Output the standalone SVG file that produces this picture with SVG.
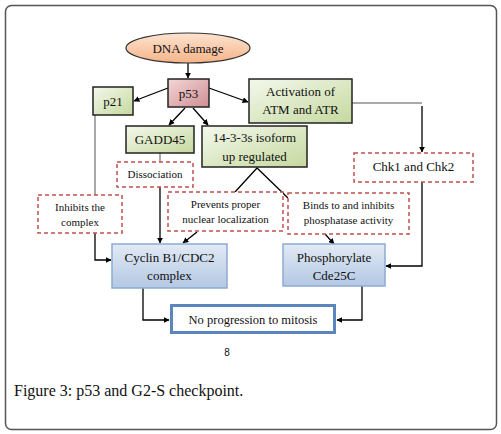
<svg xmlns="http://www.w3.org/2000/svg" width="501" height="434" viewBox="0 0 501 434">
<defs>
<linearGradient id="gGreen" x1="0" y1="0" x2="1" y2="1"><stop offset="0" stop-color="#f4f8ec"/><stop offset="1" stop-color="#c5d99f"/></linearGradient>
<linearGradient id="gPink" x1="0" y1="0" x2="1" y2="1"><stop offset="0" stop-color="#f4d6d6"/><stop offset="1" stop-color="#cf8e93"/></linearGradient>
<linearGradient id="gPeach" x1="0" y1="0" x2="0" y2="1"><stop offset="0" stop-color="#fde3d0"/><stop offset="1" stop-color="#f5b489"/></linearGradient>
<linearGradient id="gBlue" x1="0" y1="0" x2="0" y2="1"><stop offset="0" stop-color="#e2eaf5"/><stop offset="1" stop-color="#b3c8e3"/></linearGradient>
<marker id="ah" viewBox="0 0 10 10" refX="9" refY="5" markerWidth="6" markerHeight="6" orient="auto-start-reverse" markerUnits="userSpaceOnUse"><path d="M0,0 L10,5 L0,10 Z" fill="#000"/></marker>
</defs>
<style>
text{font-family:"Liberation Serif","Times New Roman",serif;fill:#111;text-anchor:middle}
.solid{stroke:#222;stroke-width:1.5}
.green{fill:url(#gGreen)}
.dash{fill:#fff;stroke:#c0504d;stroke-width:1.5;stroke-dasharray:4 3}
.blue{fill:url(#gBlue);stroke:#8eaad3;stroke-width:1.5}
.c{fill:none;stroke:#000;stroke-width:1.3}
.t{fill:none;stroke:#555;stroke-width:1}
.s13{font-size:13px}
.s11{font-size:11px}
</style>
<rect x="5.5" y="5.5" width="491" height="424" rx="6" fill="#fff" stroke="#555" stroke-width="1.5"/>

<g id="connectors">
<line class="c" x1="188" y1="63" x2="188" y2="78" marker-end="url(#ah)"/>
<line class="c" x1="168" y1="88" x2="134" y2="101" marker-end="url(#ah)"/>
<line class="c" x1="209" y1="88" x2="248" y2="102" marker-end="url(#ah)"/>
<line class="c" x1="185" y1="108" x2="169" y2="125" marker-end="url(#ah)"/>
<line class="c" x1="193" y1="108" x2="208" y2="125" marker-end="url(#ah)"/>
<polyline class="t" points="352,103 422,103"/>
<line class="c" x1="422" y1="106" x2="422" y2="152" marker-end="url(#ah)"/>
<line class="t" x1="160" y1="153" x2="160" y2="162"/>
<line class="c" x1="160" y1="187" x2="160" y2="243" marker-end="url(#ah)"/>
<line class="t" x1="95" y1="115" x2="95" y2="195"/>
<polyline class="c" points="95,233 95,260 111,260" marker-end="url(#ah)"/>
<polyline class="c" points="235,192 257,168 288,198"/>
<line class="c" x1="197" y1="232" x2="183" y2="243" marker-end="url(#ah)"/>
<line class="c" x1="325" y1="234" x2="334" y2="244" marker-end="url(#ah)"/>
<polyline class="c" points="422,182 422,266 386,266" marker-end="url(#ah)"/>
<polyline class="c" points="143,288 143,320 169,320" marker-end="url(#ah)"/>
<polyline class="c" points="362,286 362,320 337,320" marker-end="url(#ah)"/>
</g>

<g id="dna-damage">
<ellipse cx="188" cy="48" rx="62" ry="15" fill="url(#gPeach)" stroke="#333" stroke-width="1.2"/>
<text class="s13" x="188" y="52.5">DNA damage</text>
</g>
<g id="p53">
<rect x="168" y="79" width="41" height="28" fill="url(#gPink)" class="solid"/>
<text class="s13" x="188.5" y="97.5">p53</text>
</g>
<g id="p21">
<rect x="93" y="87" width="40" height="28" class="green solid"/>
<text class="s13" x="113" y="105.5">p21</text>
</g>
<g id="atm-atr">
<rect x="249" y="79" width="103" height="44" class="green solid"/>
<text class="s13" x="300.5" y="96">Activation of</text>
<text class="s13" x="300.5" y="114">ATM and ATR</text>
</g>
<g id="gadd45">
<rect x="126" y="126" width="68" height="27" class="green solid"/>
<text class="s13" x="160" y="144">GADD45</text>
</g>
<g id="isoform">
<rect x="202" y="126" width="105" height="41" class="green solid"/>
<text class="s13" x="254.5" y="142">14-3-3s isoform</text>
<text class="s13" x="254.5" y="161">up regulated</text>
</g>
<g id="chk">
<rect x="354" y="153" width="119" height="29" class="dash"/>
<text class="s13" x="413.5" y="171">Chk1 and Chk2</text>
</g>
<g id="dissociation">
<rect x="117" y="162" width="76" height="25" class="dash"/>
<text class="s11" x="155" y="177.5">Dissociation</text>
</g>
<g id="inhibits">
<rect x="38" y="195" width="84" height="38" class="dash"/>
<text class="s11" x="80" y="210.5">Inhibits the</text>
<text class="s11" x="80" y="225.5">complex</text>
</g>
<g id="prevents">
<rect x="168" y="192" width="115" height="39" class="dash"/>
<text class="s11" x="225.5" y="208">Prevents proper</text>
<text class="s11" x="225.5" y="223">nuclear localization</text>
</g>
<g id="binds">
<rect x="288" y="193" width="121" height="41" class="dash"/>
<text class="s11" x="348.5" y="209">Binds to and inhibits</text>
<text class="s11" x="348.5" y="224">phosphatase activity</text>
</g>
<g id="cyclin">
<rect x="112" y="244" width="115" height="44" class="blue"/>
<text class="s13" x="169.5" y="261.5">Cyclin B1/CDC2</text>
<text class="s13" x="169.5" y="279.5">complex</text>
</g>
<g id="cdc25c">
<rect x="283" y="244" width="102" height="42" class="blue"/>
<text class="s13" x="334" y="262">Phosphorylate</text>
<text class="s13" x="334" y="279.5">Cde25C</text>
</g>
<g id="no-progression">
<rect x="171.5" y="305.5" width="163" height="27" fill="#fff" stroke="#5b85bd" stroke-width="3"/>
<text x="253" y="324" style="font-size:12.5px">No progression to mitosis</text>
</g>
<text x="227" y="356" style="font-family:'Liberation Sans',Arial,sans-serif;font-size:10px">8</text>
<text x="14" y="396" style="font-size:16px;text-anchor:start">Figure 3: p53 and G2-S checkpoint.</text>
</svg>
